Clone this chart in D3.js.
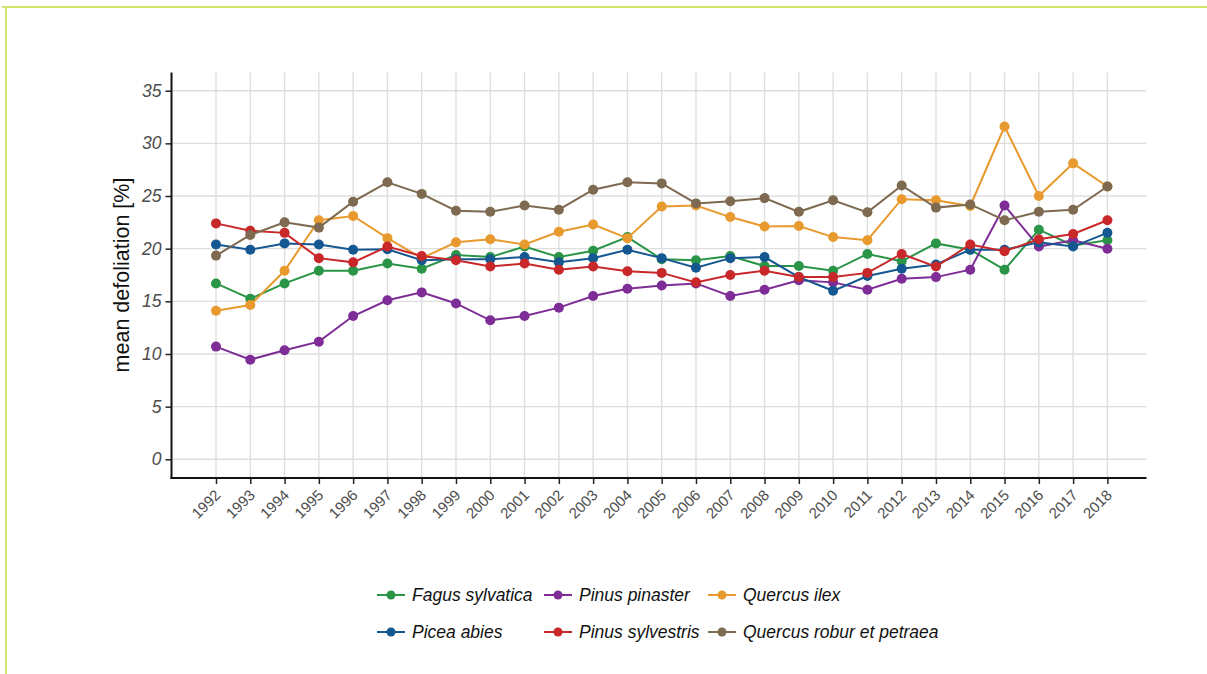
<!DOCTYPE html>
<html><head><meta charset="utf-8">
<script src="https://cdn.jsdelivr.net/npm/d3@7"></script>
<style>html,body{margin:0;padding:0;background:#fff;}svg{display:block;}</style>
</head><body>
<svg id="chart" width="1207" height="674"></svg>
<script>
const years = [1992,1993,1994,1995,1996,1997,1998,1999,2000,2001,2002,2003,2004,2005,2006,2007,2008,2009,2010,2011,2012,2013,2014,2015,2016,2017,2018];
const yTicks = [0,5,10,15,20,25,30,35];
const seriesNames = ["Fagus sylvatica","Pinus pinaster","Quercus ilex","Picea abies","Pinus sylvestris","Quercus robur et petraea"];
const seriesColors = ["#2a9447","#7e2d96","#e89a2e","#145791","#c9282a","#7d6a50"];
const fagus = [16.7,15.25,16.7,17.9,17.9,18.6,18.1,19.4,19.2,20.2,19.2,19.8,21.1,19.0,18.9,19.3,18.35,18.35,17.9,19.5,18.8,20.5,19.9,18.0,21.8,20.3,20.8];
const pinaster = [10.7,9.46,10.35,11.17,13.6,15.1,15.85,14.8,13.2,13.6,14.4,15.5,16.2,16.5,16.7,15.5,16.1,17.0,16.8,16.1,17.15,17.3,18.0,24.1,20.2,20.8,20.0];
const ilex = [14.1,14.65,17.9,22.7,23.1,21.0,19.1,20.6,20.9,20.4,21.6,22.3,21.0,24.0,24.1,23.0,22.1,22.15,21.1,20.8,24.7,24.6,24.05,31.6,25.0,28.1,25.9];
const picea = [20.4,19.9,20.5,20.4,19.9,19.95,18.9,19.0,19.0,19.2,18.7,19.1,19.9,19.1,18.2,19.1,19.2,17.3,16.0,17.4,18.1,18.5,19.9,19.9,20.6,20.2,21.5];
const sylvestris = [22.4,21.7,21.5,19.1,18.7,20.2,19.3,18.9,18.3,18.6,18.0,18.3,17.85,17.7,16.8,17.5,17.9,17.3,17.3,17.7,19.5,18.3,20.4,19.75,20.9,21.4,22.7];
const robur = [19.34,21.3,22.5,22.0,24.46,26.3,25.2,23.6,23.5,24.1,23.7,25.6,26.3,26.2,24.3,24.5,24.8,23.5,24.6,23.45,26.0,23.9,24.2,22.7,23.5,23.7,25.9];
const seriesValues = [fagus,pinaster,ilex,picea,sylvestris,robur];

const svg = d3.select("#chart");
const FONT = "Liberation Sans, Arial, sans-serif";
// frame decoration
svg.append("line").attr("x1",2).attr("x2",1207).attr("y1",7).attr("y2",7).attr("stroke","#d5e36c").attr("stroke-width",2);
svg.append("line").attr("x1",6).attr("x2",6).attr("y1",6).attr("y2",674).attr("stroke","#d5e36c").attr("stroke-width",2);

const pLeft = 171.5, pRight = 1146.5, pTop = 72.5, pBottom = 478;
const x = d3.scaleLinear().domain([1992,2018]).range([216,1107.4]);
const y = d3.scaleLinear().domain([0,35]).range([459.3,90.7]);

const g = svg.append("g");
// gridlines
g.selectAll(".hg").data(yTicks).enter().append("line")
  .attr("x1",pLeft).attr("x2",pRight).attr("y1",d=>y(d)).attr("y2",d=>y(d))
  .attr("stroke","#dedede").attr("stroke-width",1.4);
g.selectAll(".vg").data(years).enter().append("line")
  .attr("x1",d=>x(d)).attr("x2",d=>x(d)).attr("y1",pTop).attr("y2",pBottom)
  .attr("stroke","#dedede").attr("stroke-width",1.4);

// axes
const yAxis = d3.axisLeft(y).tickValues(yTicks).tickSize(6).tickPadding(4);
const ya = svg.append("g").attr("transform",`translate(${pLeft},0)`).call(yAxis);
ya.select(".domain").remove();
ya.selectAll(".tick line").attr("stroke","#222").attr("stroke-width",1.5);
ya.selectAll(".tick text").attr("font-family",FONT).attr("font-style","italic").attr("font-size",17.5).attr("fill","#4d4d4d");
svg.append("line").attr("x1",pLeft).attr("x2",pLeft).attr("y1",pTop).attr("y2",pBottom+1).attr("stroke","#111").attr("stroke-width",2);

const xAxis = d3.axisBottom(x).tickValues(years).tickFormat(d3.format("d")).tickSize(6).tickPadding(3);
const xa = svg.append("g").attr("transform",`translate(0,${pBottom})`).call(xAxis);
xa.select(".domain").remove();
xa.selectAll(".tick line").attr("stroke","#222").attr("stroke-width",1.5);
xa.selectAll(".tick text")
  .attr("font-family",FONT).attr("font-size",15).attr("fill","#4d4d4d")
  .attr("text-anchor","end").attr("dy",null).attr("y",0)
  .attr("transform","translate(5,18) rotate(-45)");
svg.append("line").attr("x1",pLeft-1).attr("x2",pRight).attr("y1",pBottom).attr("y2",pBottom).attr("stroke","#111").attr("stroke-width",2);

// y title
svg.append("text").attr("transform","translate(129,275) rotate(-90)")
  .attr("text-anchor","middle").attr("font-family",FONT)
  .attr("font-size",21.5).attr("fill","#111").text("mean defoliation [%]");

// series
const line = d3.line().x((d,i)=>x(years[i])).y(d=>y(d));
seriesValues.forEach((vals,k)=>{
  const sg = svg.append("g");
  sg.append("path").datum(vals).attr("d",line).attr("fill","none")
    .attr("stroke",seriesColors[k]).attr("stroke-width",2);
  sg.selectAll("circle").data(vals).enter().append("circle")
    .attr("cx",(d,i)=>x(years[i])).attr("cy",d=>y(d)).attr("r",5)
    .attr("fill",seriesColors[k]);
});

// legend
const legCols = [377,544,708];
const legRows = [595,632];
seriesNames.forEach((name,k)=>{
  const cx = legCols[k%3], cy = legRows[Math.floor(k/3)];
  const lg = svg.append("g").attr("transform",`translate(${cx},${cy})`);
  lg.append("line").attr("x1",0).attr("x2",28).attr("y1",0).attr("y2",0).attr("stroke",seriesColors[k]).attr("stroke-width",2);
  lg.append("circle").attr("cx",14).attr("cy",0).attr("r",4.5).attr("fill",seriesColors[k]);
  lg.append("text").attr("x",35).attr("y",6).attr("font-family",FONT)
    .attr("font-style","italic").attr("font-size",17.5).attr("fill","#111").text(name);
});
</script>
</body></html>
